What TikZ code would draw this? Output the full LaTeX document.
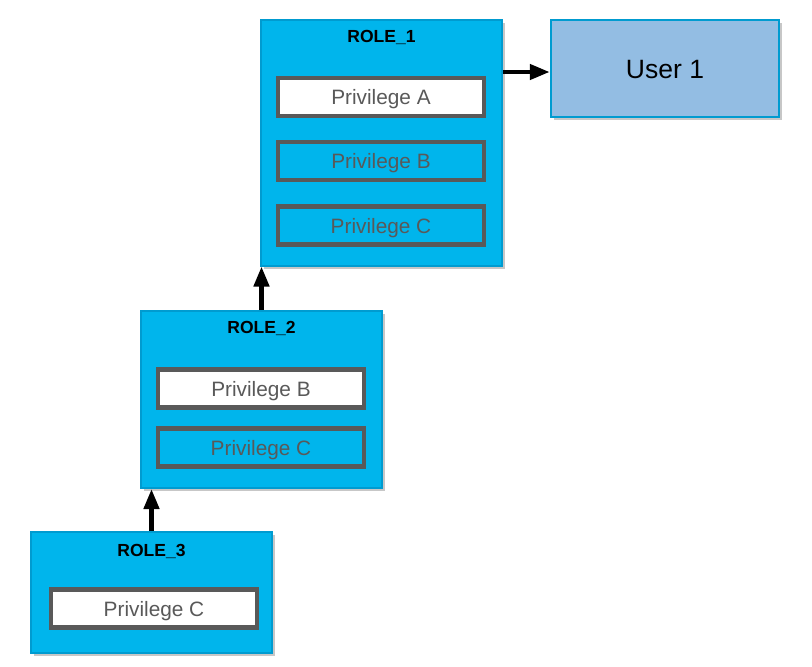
\documentclass[tikz,border=0pt]{standalone}
\usepackage{fontspec}
\setmainfont{Liberation Sans}
\usetikzlibrary{arrows.meta,shadows}
\definecolor{rolefill}{HTML}{00B5EC}
\definecolor{roleline}{HTML}{009BD0}
\definecolor{userfill}{HTML}{93BDE3}
\definecolor{privline}{HTML}{595959}
\tikzset{
  rolebox/.style={draw=roleline, line width=2pt, fill=rolefill, inner sep=0pt,
    minimum width=241pt, drop shadow={shadow xshift=3pt, shadow yshift=-3pt, fill=black, opacity=0.22}},
  userbox/.style={draw=roleline, line width=2.5pt, fill=userfill, inner sep=0pt,
    minimum width=228pt, minimum height=97pt, font=\fontsize{26.5}{30}\selectfont,
    text height=19pt, text depth=0pt,
    drop shadow={shadow xshift=3pt, shadow yshift=-3pt, fill=black, opacity=0.22}},
  privbox/.style={draw=privline, line width=4.5pt, inner sep=0pt, minimum width=206pt,
    minimum height=38pt, text=privline, font=\fontsize{20.8}{24}\selectfont,
    text height=15pt, text depth=0pt},
  privon/.style={privbox, fill=white},
  privoff/.style={privbox, fill=rolefill},
  rolelabel/.style={font=\bfseries\fontsize{17.5}{20}\selectfont, text=black,
    text height=12.5pt, text depth=0pt},
  conn/.style={line width=4.5pt, -{Triangle[length=20pt,width=15pt]}}
}
\begin{document}
\begin{tikzpicture}[x=1pt,y=-1pt]
\path[use as bounding box] (0,0) rectangle (812,667);
% ROLE_1
\node[rolebox, minimum height=246pt] (r1) at (381.5,142.5) {};
\node[rolelabel] (r1l) at (381.5,36) {ROLE\_1};
\node[privon] (r1a) at (381,97) {Privilege A};
\node[privoff] (r1b) at (381,161) {Privilege B};
\node[privoff] (r1c) at (381,225.5) {Privilege C};
% User 1
\node[userbox] (u1) at (665,68.5) {User 1};
% ROLE_2
\node[rolebox, minimum height=177pt] (r2) at (261.5,399.5) {};
\node[rolelabel] (r2l) at (261.5,327) {ROLE\_2};
\node[privon] (r2b) at (261,388.5) {Privilege B};
\node[privoff] (r2c) at (261,447.5) {Privilege C};
% ROLE_3
\node[rolebox, minimum height=121pt] (r3) at (151.5,592.5) {};
\node[rolelabel] (r3l) at (151.5,550) {ROLE\_3};
\node[privon] (r3c) at (154,608.5) {Privilege C};
% connectors
\draw[conn] (u1.west -| r1.east) ++(0,3.5) coordinate (a1) (r1.east |- a1) -- (u1.west |- a1);
\draw[conn] (r2.north) -- (r2.north |- r1.south);
\draw[conn] (r3.north) -- (r3.north |- r2.south);
\end{tikzpicture}
\end{document}
